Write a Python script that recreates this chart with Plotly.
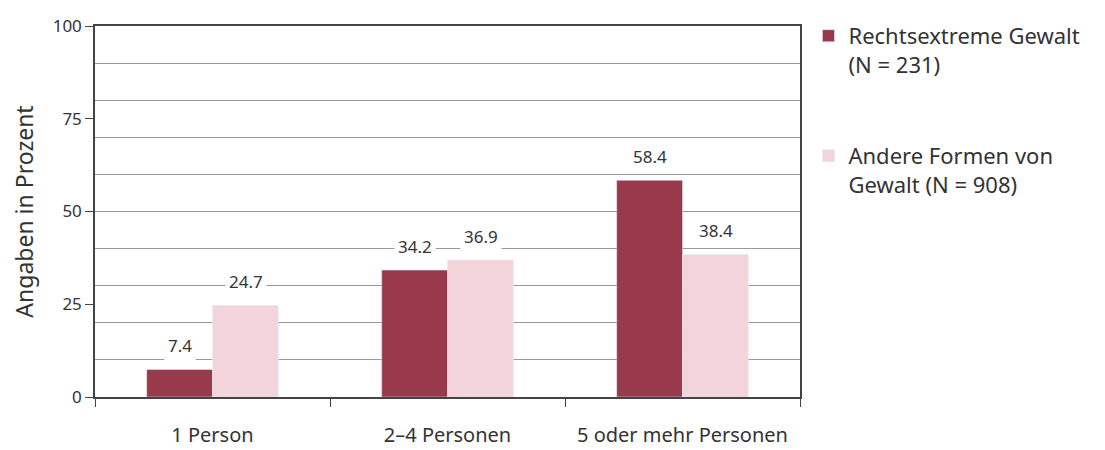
import plotly.graph_objects as go

categories = ["1 Person", "2–4 Personen", "5 oder mehr Personen"]
rechts = [7.4, 34.2, 58.4]
andere = [24.7, 36.9, 38.4]
series_names = ["Rechtsextreme Gewalt<br>(N = 231)", "Andere Formen von<br>Gewalt (N = 908)"]
y_ticks = [0, 25, 50, 75, 100]

dark = "#983a4c"
light = "#f3d4da"
txt = "#333333"
font_name = "Noto Sans"

fig = go.Figure()
fig.add_trace(go.Bar(x=categories, y=rechts, name=series_names[0], marker_color=dark,
                     legendgroup="a"))
fig.add_trace(go.Bar(x=categories, y=andere, name=series_names[1], marker_color=light,
                     legendgroup="b"))

# Wertebeschriftung ueber den Balken, weisser Hintergrund unterbricht die Gitterlinien
for i, cat in enumerate(categories):
    for vals, shift in ((rechts, -33), (andere, 33)):
        fig.add_annotation(x=cat, y=vals[i], xshift=shift, yshift=24, text=f"{vals[i]:.1f}",
                           showarrow=False, bgcolor="white", borderpad=3,
                           font=dict(family=font_name, size=17, color=txt))

# die Seite hat 8px Rand (body margin), daher links/oben etwas weniger
fig.update_layout(
    width=1105, height=450,
    margin=dict(l=87, r=313, t=7, b=61),
    paper_bgcolor="white", plot_bgcolor="white",
    barmode="group", bargap=0.44, bargroupgap=0,
    font=dict(family=font_name, color=txt),
    legend=dict(x=1.012, y=1.03, xanchor="left", yanchor="top", valign="top",
                bgcolor="rgba(0,0,0,0)",
                font=dict(size=22, color=txt), tracegroupgap=60,
                traceorder="grouped", itemwidth=30),
)
fig.update_xaxes(automargin=False, showline=True, linecolor="#444444", linewidth=1.5, mirror=True,
                 ticks="outside", tickson="boundaries", ticklen=8, tickcolor="#444444",
                 tickfont=dict(size=20, color=txt), ticklabelstandoff=19)
fig.update_yaxes(automargin=False, range=[0, 100], showline=True, linecolor="#444444",
                 linewidth=1.5, mirror=True,
                 tickvals=y_ticks, ticks="outside", ticklen=8, tickcolor="#444444",
                 tickfont=dict(size=17, color=txt),
                 showgrid=False,
                 minor=dict(dtick=10, showgrid=True, gridcolor="#9a9a9a", gridwidth=1),
                 title=dict(text="Angaben in Prozent", font=dict(size=23, color=txt), standoff=20))

fig.write_html("out.html")
